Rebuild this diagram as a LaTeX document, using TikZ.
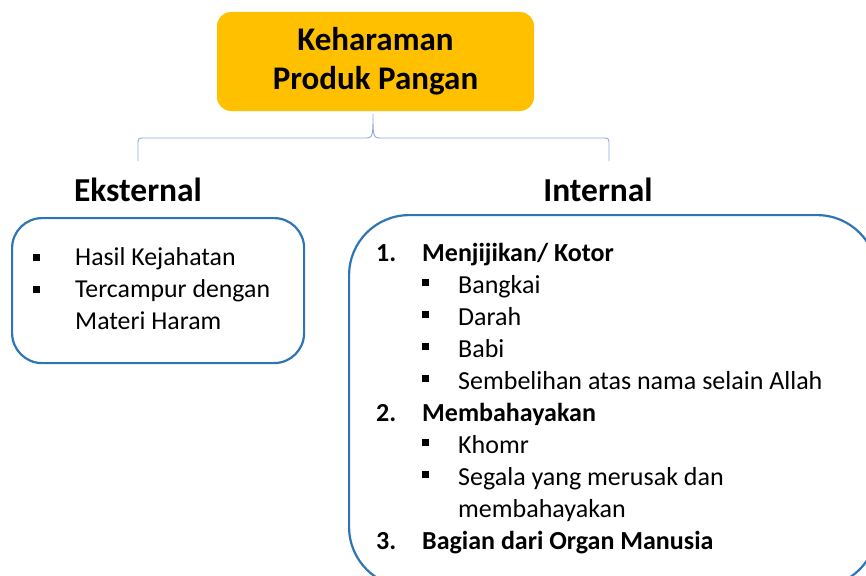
\documentclass[tikz,border=0pt]{standalone}
\usepackage{fontspec}
\setmainfont{Carlito}
\usepackage{array}
\definecolor{titleorange}{HTML}{FFC000}
\definecolor{boxblue}{HTML}{2E75B6}
\definecolor{bracegray}{HTML}{8FAADC}
\newcommand{\sqbul}[1]{\rule[#1]{7pt}{7pt}}

\begin{document}
\begin{tikzpicture}[
    x=1pt,y=-1pt,
    topbox/.style={fill=titleorange,rounded corners=14pt,minimum width=317pt,minimum height=99pt,align=center,font=\fontsize{33}{39}\selectfont\bfseries},
    heading/.style={font=\fontsize{33.5}{38}\selectfont\bfseries,inner sep=0pt},
    listbox/.style={draw=boxblue,line width=2.2pt,inner sep=0pt},
    listtext/.style={inner sep=0pt,anchor=base west},
    brace/.style={draw=bracegray,line width=0.9pt}
    ]
    \useasboundingbox (0,0) rectangle (866,575);
    \clip (0,0) rectangle (866,575);
    \node[topbox] (title) at (375.5,61.5) {Keharaman\\Produk Pangan};
    \node[heading,anchor=base] (ext) at (138,201.5) {Eksternal};
    \node[heading,anchor=base] (int) at (598,201.5) {Internal};
    \coordinate (apex) at (373,114);
    \coordinate (extTop) at (138,161);
    \coordinate (intTop) at (609,161);
    \draw[brace] (extTop) -- (138,145) .. controls (138,138) .. (145,138) -- (366,138)
      .. controls (373,138) and (373,135) .. (apex)
      .. controls (373,135) and (373,138) .. (380,138) -- (602,138)
      .. controls (609,138) .. (609,145) -- (intTop);
    \node[listbox,rounded corners=30pt,minimum width=292pt,minimum height=145pt,anchor=north west] (extbox) at (11,217) {};
    \node[listbox,rounded corners=60pt,minimum width=528pt,minimum height=372pt,anchor=north west] (intbox) at (348,214) {};
    \node[listtext,font=\fontsize{25.8}{32}\selectfont] (extlist) at (33,265) {%
      \begin{tabular}[t]{@{}p{42pt}@{}l@{}}
        \sqbul{4.5pt} & Hasil Kejahatan\\
        \sqbul{4.5pt} & Tercampur dengan\\
                      & Materi Haram
      \end{tabular}};
    \node[listtext,font=\fontsize{26}{32}\selectfont] (intlist) at (376,261) {%
      \begin{tabular}[t]{@{}p{46pt}@{}p{36pt}@{}l@{}}
        \bfseries 1. & \multicolumn{2}{@{}l@{}}{\bfseries Menjijikan/ Kotor}\\
        & \sqbul{7pt} & Bangkai\\
        & \sqbul{7pt} & Darah\\
        & \sqbul{7pt} & Babi\\
        & \sqbul{7pt} & Sembelihan atas nama selain Allah\\
        \bfseries 2. & \multicolumn{2}{@{}l@{}}{\bfseries Membahayakan}\\
        & \sqbul{7pt} & Khomr\\
        & \sqbul{7pt} & Segala yang merusak dan\\
        &             & membahayakan\\
        \bfseries 3. & \multicolumn{2}{@{}l@{}}{\bfseries Bagian dari Organ Manusia}
      \end{tabular}};
\end{tikzpicture}
\end{document}
